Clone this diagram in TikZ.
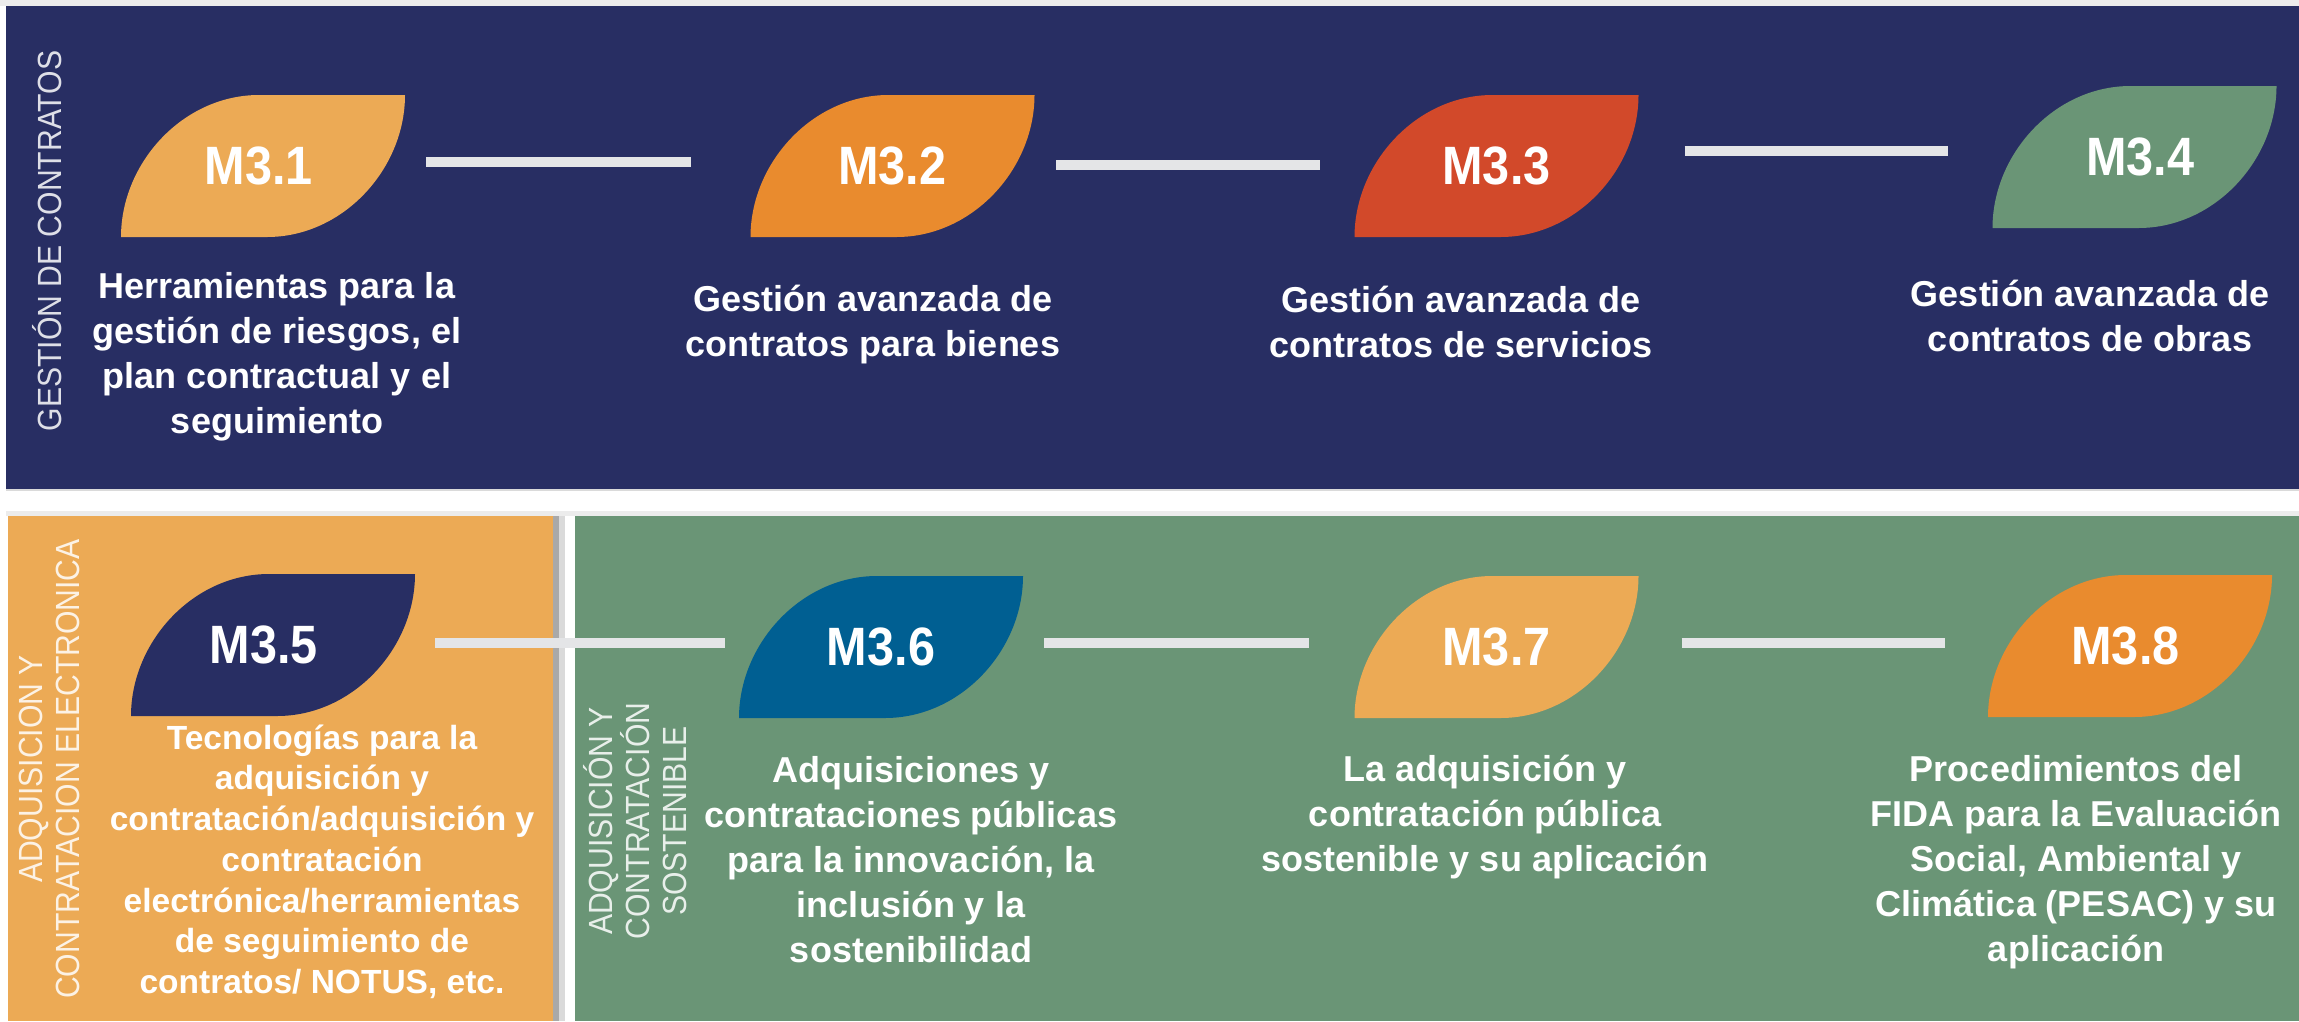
\documentclass[tikz,border=0pt]{standalone}
\usepackage{fontspec}
\setmainfont{Liberation Sans}
\newfontfamily\labfam[FakeStretch=0.9]{Liberation Sans}
\newfontfamily\sidefam[FakeStretch=0.9]{Liberation Sans}
\definecolor{navy}{RGB}{40,46,99}
\definecolor{lorange}{RGB}{236,170,85}
\definecolor{dorange}{RGB}{233,139,46}
\definecolor{rust}{RGB}{210,73,42}
\definecolor{sage}{RGB}{106,149,118}
\definecolor{ocean}{RGB}{0,95,146}
\definecolor{connc}{RGB}{228,229,231}
\definecolor{shadowd}{RGB}{169,169,169}
\definecolor{shadowl}{RGB}{218,218,218}
\definecolor{stripl}{RGB}{236,236,236}
\pgfdeclarelayer{panels}
\pgfdeclarelayer{leaves}
\pgfsetlayers{panels,leaves,main}
\newcommand\labfont{\labfam\fontsize{54}{60}\selectfont\bfseries}
\newcommand\descfont{\fontsize{36}{45}\selectfont\bfseries}
\newcommand\descfontsm{\fontsize{33.5}{40.7}\selectfont\bfseries}
\newcommand\sidefont{\sidefam\fontsize{33.5}{37}\selectfont}
\newcommand\fs{\rule{0pt}{34pt}}
\newcommand\leafat[2]{%
  \begin{pgfonlayer}{leaves}
  \fill[#2] (#1.south west) -- ([shift={(-138,0)}]#1.south east)
    .. controls ([shift={(-62,0)}]#1.south east) and ([shift={(0,74)}]#1.north east) .. (#1.north east)
    -- ([shift={(138,0)}]#1.north west)
    .. controls ([shift={(62,0)}]#1.north west) and ([shift={(0,-74)}]#1.south west) .. (#1.south west) -- cycle;
  \end{pgfonlayer}}
\begin{document}
\begin{tikzpicture}[x=1pt,y=-1pt,
  leafnode/.style={minimum width=284, minimum height=142, inner sep=0, outer sep=0, text=white, font=\labfont},
  desc/.style={text=white, font=\descfont, align=center, inner sep=0, anchor=north},
  side/.style={text=white, text opacity=0.85, font=\sidefont, align=center, inner sep=0, rotate=90},
  conn/.style={draw=connc, line width=10}]
\useasboundingbox (0,0) rectangle (2299,1021);
\begin{pgfonlayer}{panels}
  \fill[white] (0,0) rectangle (2299,1021);
  \fill[stripl] (0,0) rectangle (2299,6);
  \fill[navy] (6,6) rectangle (2299,489);
  \fill[shadowl] (6,489) rectangle (2299,491);
  \fill[stripl] (6,511) rectangle (2299,516);
  \fill[lorange] (8,516) rectangle (553,1021);
  \fill[shadowd] (553,516) rectangle (559,1021);
  \fill[shadowl] (559,516) rectangle (565,1021);
  \fill[sage] (575,516) rectangle (2299,1021);
\end{pgfonlayer}

% side labels
\node[side] (sg) at (47,241) {GESTIÓN DE CONTRATOS};
\node[side] (se) at (49,769) {ADQUISICION Y\\CONTRATACION ELECTRONICA};
\node[side] (ss) at (635,821) {ADQUISICIÓN Y\\CONTRATACIÓN\\SOSTENIBLE};

% leaves
\node[leafnode] (m31) at (263,166) {\hspace*{-8pt}M3.1};
\node[leafnode] (m32) at (892.5,166) {M3.2};
\node[leafnode] (m33) at (1496.5,166) {M3.3};
\node[leafnode] (m34) at (2134.5,157) {M3.4\hspace*{-11pt}};
\node[leafnode] (m35) at (273,645) {\hspace*{-18pt}M3.5};
\node[leafnode] (m36) at (881,647) {M3.6};
\node[leafnode] (m37) at (1496.5,647) {M3.7};
\node[leafnode] (m38) at (2130,646) {\hspace*{-9pt}M3.8};
\leafat{m31}{lorange}
\leafat{m32}{dorange}
\leafat{m33}{rust}
\leafat{m34}{sage}
\leafat{m35}{navy}
\leafat{m36}{ocean}
\leafat{m37}{lorange}
\leafat{m38}{dorange}

% connectors
\draw[conn] ([shift={(21,-4)}]m31.east) -- ([shift={(-60,-4)}]m32.west);
\draw[conn] ([shift={(21.5,-1)}]m32.east) -- ([shift={(-35,-1)}]m33.west);
\draw[conn] ([shift={(46,-15)}]m33.east) -- ([shift={(-45,-6)}]m34.west);
\draw[conn] ([shift={(20,-2)}]m35.east) -- ([shift={(-14,-4)}]m36.west);
\draw[conn] ([shift={(21,-4)}]m36.east) -- ([shift={(-46,-4)}]m37.west);
\draw[conn] ([shift={(43,-4)}]m37.east) -- ([shift={(-43,-3)}]m38.west);

% descriptions
\node[desc] (d31) at (277,264) {\fs Herramientas para la\\gestión de riesgos, el\\plan contractual y el\\seguimiento};
\node[desc] (d32) at (873,277) {\fs Gestión avanzada de\\contratos para bienes};
\node[desc] (d33) at (1461,278) {\fs Gestión avanzada de\\contratos de servicios};
\node[desc] (d34) at (2090,272) {\fs Gestión avanzada de\\contratos de obras};
\node[desc, font=\descfontsm] (d35) at (322,715) {\fs Tecnologías para la\\adquisición y\\contratación/adquisición y\\contratación\\electrónica/herramientas\\de seguimiento de\\contratos/ NOTUS, etc.};
\node[desc] (d36) at (911,748) {\fs Adquisiciones y\\contrataciones públicas\\para la innovación, la\\inclusión y la\\sostenibilidad};
\node[desc] (d37) at (1485,747) {\fs La adquisición y\\contratación pública\\sostenible y su aplicación};
\node[desc] (d38) at (2076,747) {\fs Procedimientos del\\FIDA para la Evaluación\\Social, Ambiental y\\Climática (PESAC) y su\\aplicación};
\end{tikzpicture}
\end{document}
